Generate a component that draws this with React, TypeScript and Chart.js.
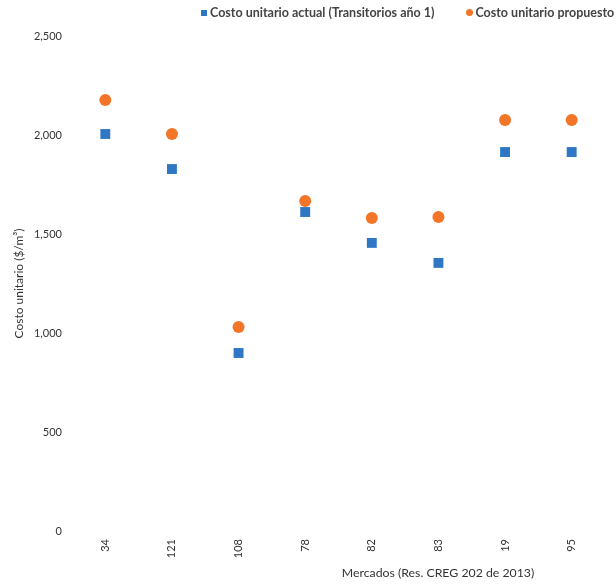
import React, { useEffect, useRef } from "react";
import { Chart, registerables } from "chart.js";

Chart.register(...registerables);

const categories = ["34", "121", "108", "78", "82", "83", "19", "95"];
const actualValues = [2005, 1828, 899, 1611, 1455, 1354, 1914, 1914];
const proposedValues = [2177, 2005, 1030, 1667, 1581, 1586, 2076, 2076];
const seriesNames = ["Costo unitario actual (Transitorios año 1)", "Costo unitario propuesto"];
const yTitle = "Costo unitario ($/m³)";
const xTitle = "Mercados (Res. CREG 202 de 2013)";

const BLUE = "#2f77c4";
const ORANGE = "#f27528";
const FONT = "Lato, 'Open Sans', sans-serif";

export default function App() {
  const ref = useRef<HTMLCanvasElement | null>(null);

  useEffect(() => {
    if (!ref.current) return;
    const chart = new Chart(ref.current, {
      type: "line",
      data: {
        labels: categories,
        datasets: [
          {
            label: seriesNames[0],
            data: actualValues,
            showLine: false,
            pointStyle: "rect",
            pointRadius: 7,
            backgroundColor: BLUE,
            borderColor: BLUE,
            borderWidth: 0,
          },
          {
            label: seriesNames[1],
            data: proposedValues,
            showLine: false,
            pointStyle: "circle",
            pointRadius: 6,
            backgroundColor: ORANGE,
            borderColor: ORANGE,
            borderWidth: 0,
          },
        ],
      },
      options: {
        animation: false,
        responsive: false,
        layout: { padding: { top: 36, right: 11, bottom: 0, left: 12 } },
        plugins: { legend: { display: false }, tooltip: { enabled: false } },
        scales: {
          x: {
            type: "category",
            offset: true,
            grid: { display: false, drawTicks: false },
            border: { display: false },
            ticks: {
              minRotation: 90,
              maxRotation: 90,
              padding: 8,
              color: "#333",
              font: { family: FONT, size: 11 },
            },
            afterFit: (s: any) => {
              s.height = 54;
            },
          },
          y: {
            min: 0,
            max: 2500,
            grid: { display: false, drawTicks: false },
            border: { display: false },
            ticks: {
              stepSize: 500,
              padding: 10,
              color: "#333",
              font: { family: FONT, size: 11 },
              callback: (v: any) => Number(v).toLocaleString("en-US"),
            },
            title: {
              display: true,
              text: yTitle,
              color: "#333",
              font: { family: FONT, size: 12 },
              padding: { top: 0, bottom: 0 },
            },
            afterFit: (s: any) => {
              s.width = 60;
            },
          },
        },
      },
    });
    return () => chart.destroy();
  }, []);

  return (
    <div style={{ position: "fixed", left: 0, top: 0, width: 616, height: 585, background: "#fff", overflow: "hidden", fontFamily: FONT }}>
      <canvas ref={ref} width={616} height={585} style={{ position: "absolute", left: 0, top: 0 }} />
      <div style={{ position: "absolute", top: 5, left: 201, whiteSpace: "nowrap", fontSize: 12.5, fontWeight: 700, color: "#444", display: "flex", alignItems: "center" }}>
        <span style={{ display: "inline-block", width: 6, height: 6, background: BLUE, marginRight: 3 }} />
        <span>{seriesNames[0]}</span>
        <span style={{ display: "inline-block", width: 7, height: 7, borderRadius: "50%", background: ORANGE, marginLeft: 32, marginRight: 2 }} />
        <span>{seriesNames[1]}</span>
      </div>
      <div style={{ position: "absolute", top: 565, left: 300, width: 276, textAlign: "center", fontSize: 12.3, color: "#333", whiteSpace: "nowrap" }}>
        {xTitle}
      </div>
    </div>
  );
}
